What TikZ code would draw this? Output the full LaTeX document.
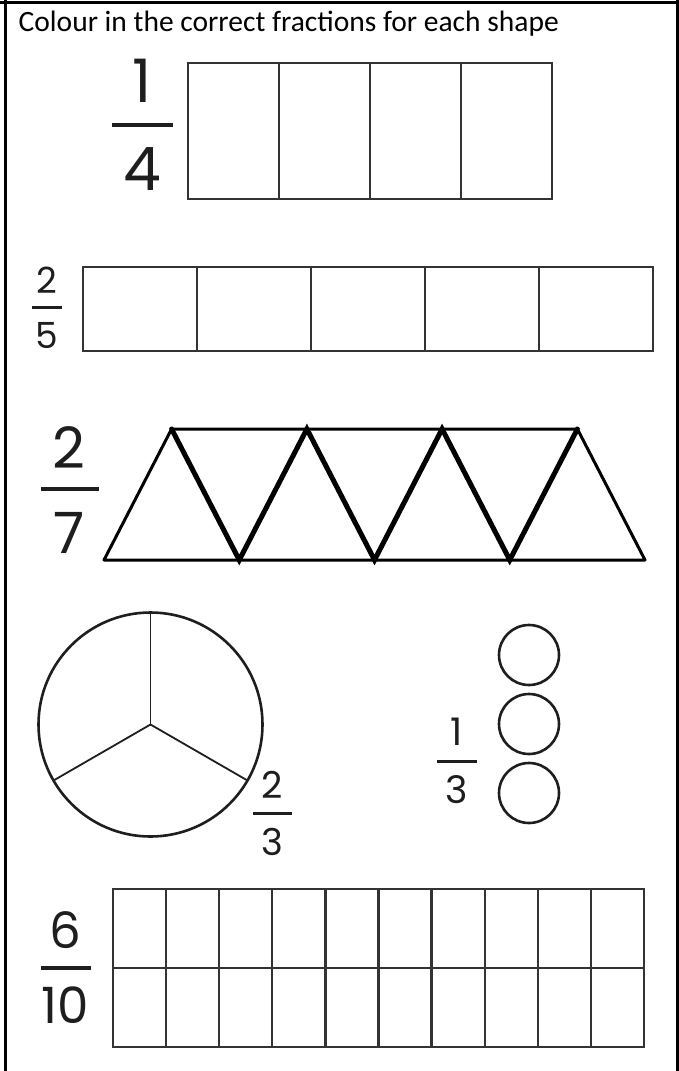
\documentclass[tikz,border=0pt]{standalone}
\usepackage{fontspec}
\setmainfont{Carlito}
\newfontfamily\fracfont{Poppins}
\definecolor{ink}{HTML}{1E1E1E}
\definecolor{boxline}{HTML}{333333}
\begin{document}
\begin{tikzpicture}[x=1pt,y=-1pt,
  digit/.style={anchor=base,inner sep=0pt,text=ink},
  fbar/.style={draw=ink,line width=#1},
  boxstyle/.style={draw=boxline,line width=2.3pt},
  thinbox/.style={draw=boxline,line width=1.5pt},
  gridbox/.style={draw=boxline,line width=2.3pt},
  tri/.style={draw=black,line width=3pt,line join=round},
  trimid/.style={draw=black,line width=5pt,line cap=round},
  roundshape/.style={draw=ink,line width=2.6pt},
  spoke/.style={draw=ink,line width=1.8pt},
  frame/.style={draw=black,line width=2.8pt}]
\useasboundingbox (0,0) rectangle (679,1071);
% frame
\draw[frame] (5.3,0) -- (5.3,1071);
\draw[frame] (0,2.2) -- (679,2.2);
\draw[frame] (677.7,0) -- (677.7,1071);
% title
\node[anchor=base west,inner sep=0pt,font=\fontsize{29.5}{34}\selectfont] (title) at (18.5,31.7) {Colour in the correct fractions for each shape};
% 1/4
\node[digit,font=\fracfont\fontsize{60}{60}\selectfont] (q1n) at (142,102) {1};
\node[digit,font=\fracfont\fontsize{60}{60}\selectfont] (q1d) at (142,190) {4};
\draw[fbar=4pt] (112,125) -- (173,125);
\draw[boxstyle] (188,63) rectangle (552,199);
\foreach \x in {279,370,461} \draw[boxstyle] (\x,63) -- (\x,199);
% 2/5
\node[digit,font=\fracfont\fontsize{36}{36}\selectfont] (q2n) at (47,293) {2};
\node[digit,font=\fracfont\fontsize{36}{36}\selectfont] (q2d) at (47,348) {5};
\draw[fbar=3pt] (32,307) -- (62,307);
\draw[thinbox] (83,267) rectangle (653,351);
\foreach \x in {197,311,425,539} \draw[thinbox] (\x,267) -- (\x,351);
% 2/7
\node[digit,font=\fracfont\fontsize{57}{57}\selectfont] (q3n) at (69,468) {2};
\node[digit,font=\fracfont\fontsize{57}{57}\selectfont] (q3d) at (69,553) {7};
\draw[fbar=4pt] (41,489) -- (99,489);
\draw[tri] (104,560) -- (171.6,429) -- (577.4,429) -- (645,560) -- cycle;
\draw[trimid] (171.6,429) -- (239.25,560) -- (306.9,429) -- (374.5,560) -- (442.1,429) -- (509.75,560) -- (577.4,429);
% big circle 2/3
\draw[roundshape] (150.5,724.5) circle[radius=112];
\draw[spoke] (150.5,724.5) -- (150.5,612.5);
\draw[spoke] (150.5,724.5) -- (53.5,780.5);
\draw[spoke] (150.5,724.5) -- (247.5,780.5);
\node[digit,font=\fracfont\fontsize{37}{37}\selectfont] (q4n) at (272,798) {2};
\node[digit,font=\fracfont\fontsize{37}{37}\selectfont] (q4d) at (272,855) {3};
\draw[fbar=3pt] (253,813) -- (292,813);
% small circles 1/3
\foreach \y in {655,724,793} \draw[roundshape] (529,\y) circle[radius=30];
\node[digit,font=\fracfont\fontsize{38}{38}\selectfont] (q5n) at (457,745) {1};
\node[digit,font=\fracfont\fontsize{38}{38}\selectfont] (q5d) at (457,803) {3};
\draw[fbar=3pt] (437,761) -- (477,761);
% 6/10
\node[digit,font=\fracfont\fontsize{50}{50}\selectfont] (q6n) at (65,948) {6};
\node[digit,font=\fracfont\fontsize{50}{50}\selectfont] (q6d) at (65,1023) {10};
\draw[fbar=4pt] (41,968) -- (91,968);
\draw[gridbox] (113,889) rectangle (644,1047);
\draw[gridbox] (113,968) -- (644,968);
\foreach \i in {1,...,9} \draw[gridbox] ({113+53.1*\i},889) -- ({113+53.1*\i},1047);
\end{tikzpicture}
\end{document}
